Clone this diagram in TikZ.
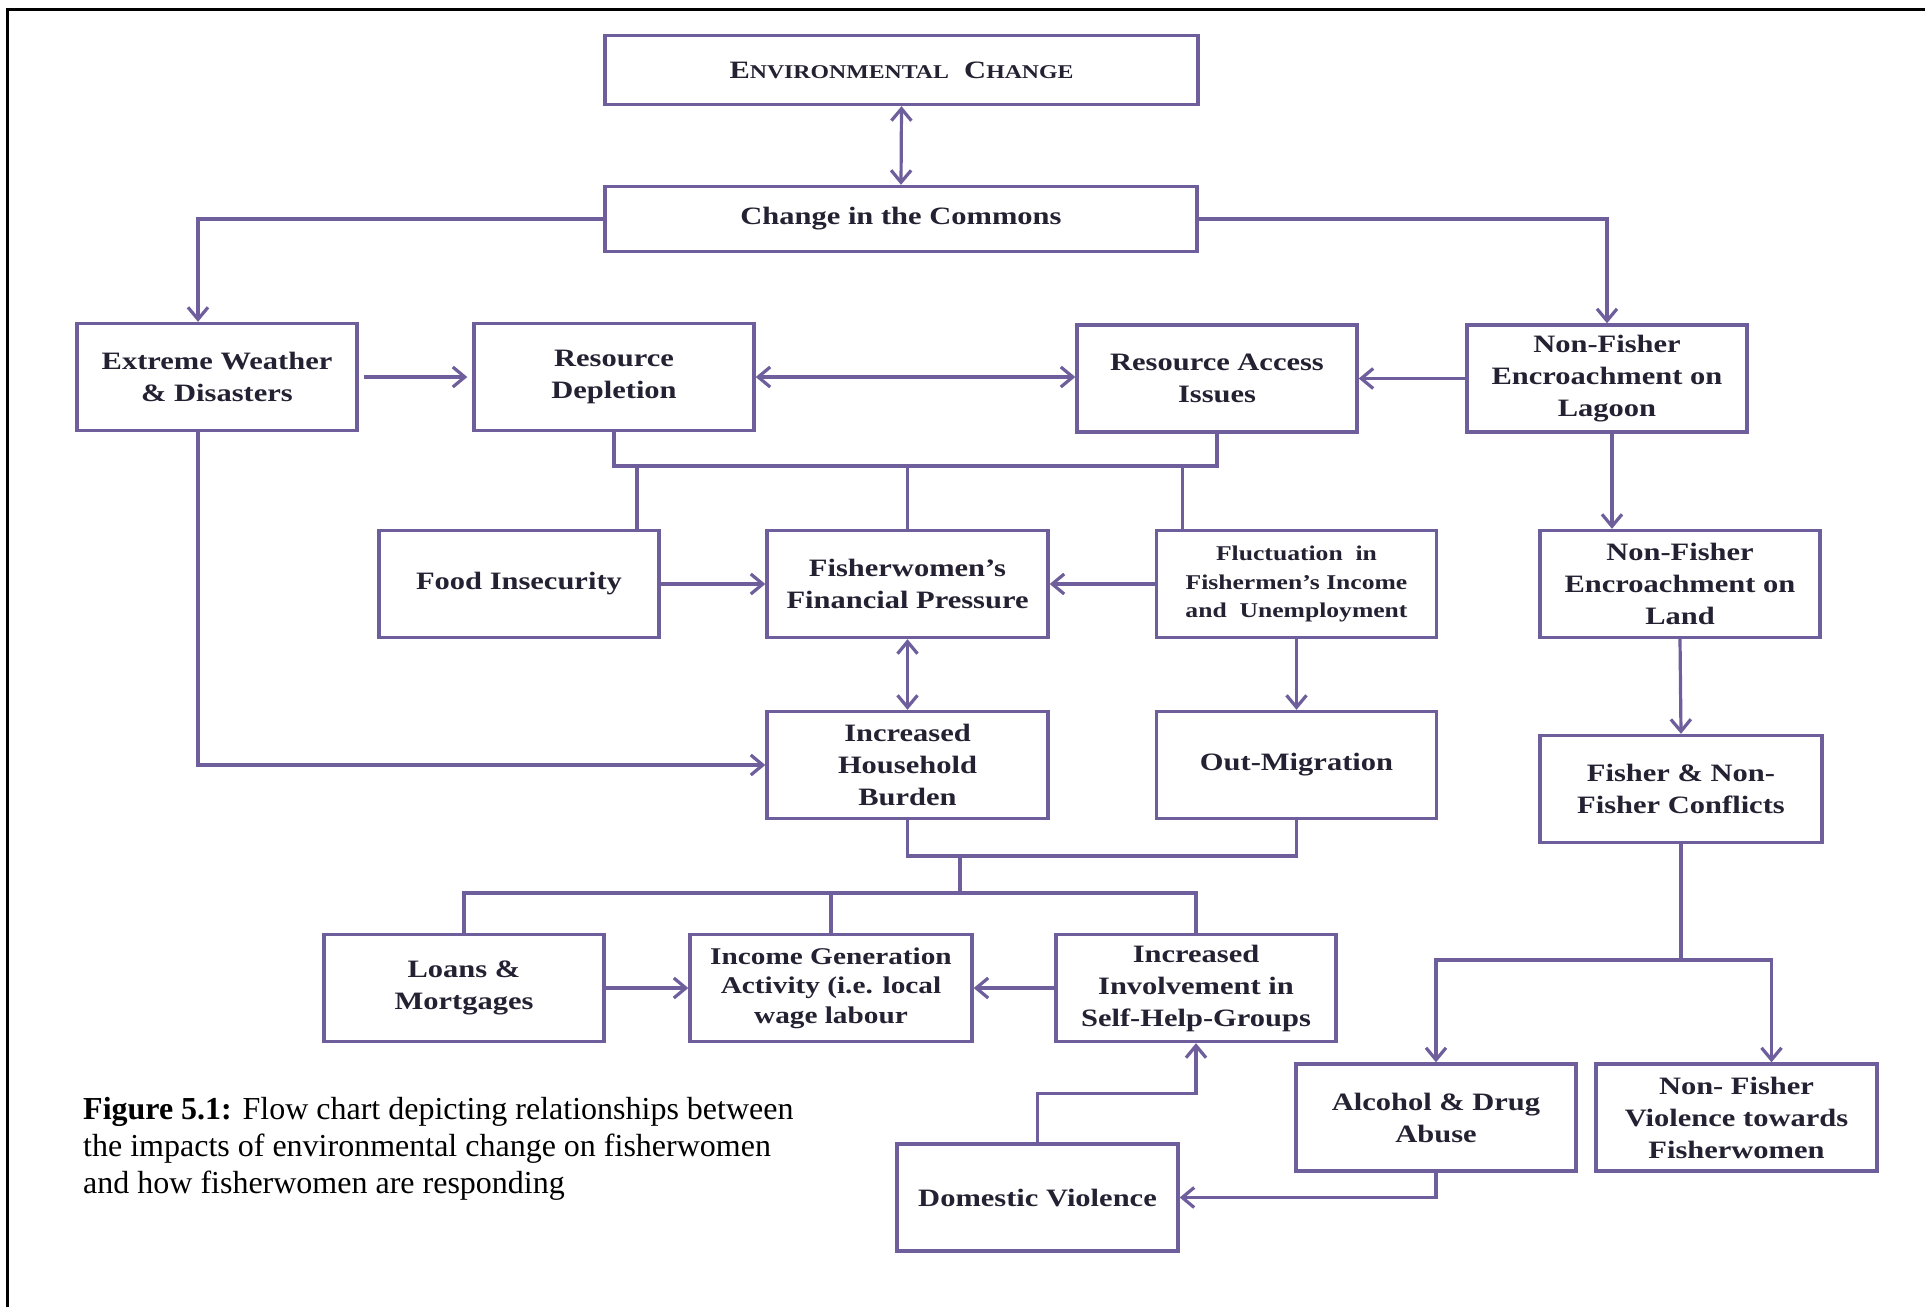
\documentclass[tikz,border=0pt]{standalone}
\usepackage{fontspec}
\setmainfont{Liberation Serif}
\newfontfamily\boxfont[FakeStretch=1.22]{Liberation Serif}
\usetikzlibrary{arrows.meta,calc}
\definecolor{lc}{RGB}{110,94,156}
\definecolor{tc}{RGB}{36,33,50}
\tikzset{
  box/.style={draw=lc, line width=3.4pt, inner sep=0pt, align=center, text=tc,
    minimum width=280pt, minimum height=107pt,
    font=\boxfont\bfseries\fontsize{25}{32}\selectfont},
  ln/.style={draw=lc, line width=3.2pt},
  arr/.style={ln, -{Straight Barb[length=12pt,width=20pt]}},
  darr/.style={ln, {Straight Barb[length=12pt,width=20pt]}-{Straight Barb[length=12pt,width=20pt]}},
}
\begin{document}
\begin{tikzpicture}[x=1pt,y=-1pt]
\useasboundingbox (0,0) rectangle (1925,1307);
\fill[white] (0,0) rectangle (1925,1307);
\draw[line width=3pt] (7,1307) -- (7,9) -- (1925,9);

% boxes
\node[box, minimum width=593pt, minimum height=69pt] (env) at (901.5,70)
  {{\fontsize{25}{32}\selectfont E}{\fontsize{19.5}{32}\selectfont NVIRONMENTAL}~~{\fontsize{25}{32}\selectfont C}{\fontsize{19.5}{32}\selectfont HANGE}};
\node[box, minimum width=592pt, minimum height=65pt] (commons) at (901,219) {Change in the Commons};
\node[box] (ew) at (217,377) {Extreme Weather\\\& Disasters};
\node[box] (rd) at (614,377) {Resource\\Depletion};
\node[box] (ra) at (1217,378.5) {Resource Access\\Issues};
\node[box] (lagoon) at (1607,378.5) {Non-Fisher\\Encroachment on\\Lagoon};
\node[box] (food) at (519,584) {Food Insecurity};
\node[box, minimum width=281pt] (fp) at (907.5,584) {Fisherwomen’s\\Financial Pressure};
\node[box, font=\boxfont\bfseries\fontsize{21}{28.5}\selectfont] (fluct) at (1296.5,584) {Fluctuation~~in\\Fishermen’s Income\\and~ Unemployment};
\node[box] (land) at (1680,584) {Non-Fisher\\Encroachment on\\Land};
\node[box, minimum width=281pt] (hb) at (907.5,765) {Increased\\Household\\Burden};
\node[box] (om) at (1296.5,765) {Out-Migration};
\node[box, minimum width=282pt] (conf) at (1681,789) {Fisher \& Non-\\Fisher Conflicts};
\node[box] (loans) at (464,988) {Loans \&\\Mortgages};
\node[box, minimum width=282pt, font=\boxfont\bfseries\fontsize{24}{29.5}\selectfont] (income) at (831,988) {Income Generation\\Activity (i.e. local\\wage labour};
\node[box] (shg) at (1196,988) {Increased\\Involvement in\\Self-Help-Groups};
\node[box] (alc) at (1436,1117.5) {Alcohol \& Drug\\Abuse};
\node[box, minimum width=281pt] (nfv) at (1736.5,1117.5) {Non- Fisher\\Violence towards\\Fisherwomen};
\node[box, minimum width=281pt] (dv) at (1037.5,1197.5) {Domestic Violence};

% caption
\node[anchor=base west, align=left, inner sep=0pt, font=\fontsize{32}{37}\selectfont] (cap) at (83,1193)
  {\textbf{Figure 5.1:} Flow chart depicting relationships between\\the impacts of environmental change on fisherwomen\\and how fisherwomen are responding};

% connectors
\draw[darr] (env.south) -- (commons.north);
\draw[arr] (commons.west) -| ([xshift=-19pt]ew.north);
\draw[arr] (commons.east) -| (lagoon.north);
\draw[arr, shorten <=5pt, shorten >=5pt] (ew.east) -- (rd.west);
\draw[darr] (rd.east) -- (rd.east -| ra.west);
\draw[arr] (lagoon.west) -- (ra.east);

\coordinate (b1) at (614,466);
\coordinate (b2) at (1217,466);
\draw[ln] (rd.south) |- (b2) -- (ra.south);
\draw[ln] ([xshift=118pt]food.north) -- ([xshift=118pt]food.north |- b1);
\draw[ln] (fp.north) -- (fp.north |- b1);
\draw[ln] ([xshift=-114pt]fluct.north) -- ([xshift=-114pt]fluct.north |- b1);

\draw[arr] (food.east) -- (fp.west);
\draw[arr] (fluct.west) -- (fp.east);
\draw[darr] (fp.south) -- (hb.north);
\draw[arr] (fluct.south) -- (om.north);
\draw[arr] ([xshift=5pt]lagoon.south) -- ([xshift=5pt]lagoon.south |- land.north);
\draw[arr] (land.south) -- (conf.north);
\draw[arr] ([xshift=-19pt]ew.south) |- (hb.west);

\coordinate (m1) at (960,856);
\coordinate (m2) at (960,893);
\draw[ln] (hb.south) |- (m1) -| (om.south);
\draw[ln] (m1) -- (m2);
\draw[ln] (loans.north) |- (m2) -| (shg.north);
\draw[ln] (income.north) -- (income.north |- m2);
\draw[arr] (loans.east) -- (income.west);
\draw[arr] (shg.west) -- (income.east);
\draw[arr] (dv.north) -- ++(0,-49) -| (shg.south);

\coordinate (c1) at (1681,960);
\draw[ln] (conf.south) -- (c1);
\draw[arr] (c1) -| (alc.north);
\draw[arr] (c1) -| ([xshift=35pt]nfv.north);
\draw[arr] (alc.south) |- (dv.east);
\end{tikzpicture}
\end{document}
